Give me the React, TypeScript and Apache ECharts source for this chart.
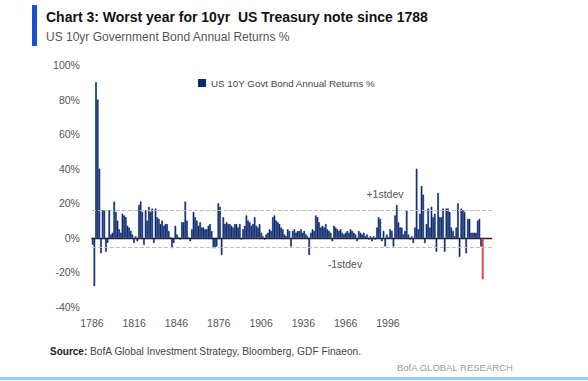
import React, { useEffect, useRef } from "react";
import * as echarts from "echarts";

const startYear = 1786;
// US 10Y govt bond annual returns %, 1786..2022
const returns: number[] = [
  -4, -28, 90, 80, 40, -9, 16, 16, -8, -3,
  16, 2, 3, 21, 15, 10, 5, 3, 14, 13,
  12, 7, 6, 4, 2, -3, 1, -2, 19, 21,
  15, -4, 16, 10, 18, 15, 17, -3, 17, 12,
  11, 8, 10, 7, 8, 8, 4, 0, -6, -3,
  7, 2, 0, -1, 9, 9, 21, 10, 0, -2,
  5, 15, 12, 10, 7, 9, 6, 6, 5, 5,
  7, 8, 4, -6, -6, -5, 20, 18, -10, 12,
  8, 9, 8, 8, 7, 6, 8, 8, 6, 8,
  -1, 5, 7, 13, 10, 9, 7, 8, 12, 7,
  6, 8, 3, 1, -1, 2, 3, 5, 4, 12,
  13, 10, 9, 8, 6, 5, 2, 1, 5, 4,
  -5, 4, 5, 3, 4, 4, 5, 3, 4, 2,
  1, -10, 3, 5, 4, 13, 12, 9, 6, 7,
  6, 8, 5, 4, 3, -2, 7, 6, 5, 4,
  5, 3, 2, 3, 4, 3, 5, 4, 3, 2,
  -2, 4, 3, 2, 3, 1, 2, -1, 1, -2,
  1, -1, 6, 12, 11, -2, 4, -5, 2, 0,
  5, 4, -5, 13, 19, 9, 6, 6, 2, 4,
  16, 2, -1, 1, -3, 6, 40, 5, 14, 30,
  25, -3, 8, 17, 6, 18, 12, 14, -8, 26,
  12, 12, 17, -8, 17, 17, 15, 6, 4, 1,
  6, 20, -11, 17, 16, 15, -9, 11, 11, 3,
  3, 3, 3, 10, 11, -5, -24,
];
const years: number[] = returns.map((_, i) => startYear + i);

const xTickLabels = ["1786", "1816", "1846", "1876", "1906", "1936", "1966", "1996"];
const stdevUpper = 16.1;
const stdevLower = -5.7;
const seriesName = "US 10Y Govt Bond Annual Returns %";
const titleText = "Chart 3: Worst year for 10yr  US Treasury note since 1788";
const subtitleText = "US 10yr Government Bond Annual Returns %";
const sourceText = " BofA Global Investment Strategy, Bloomberg, GDF Finaeon.";

const NAVY = "#0b2870";
const RED = "#e8262a";
const FONT = '"Liberation Sans Narrow", "Arial Narrow", "Liberation Sans", sans-serif';

export default function App() {
  const ref = useRef<HTMLDivElement>(null);
  useEffect(() => {
    if (!ref.current) return;
    const chart = echarts.init(ref.current, undefined, { renderer: "svg" });
    const last = returns.length - 1;
    const data = returns.map((v, i) =>
      i === last
        ? { value: [years[i], v], itemStyle: { color: RED, borderColor: RED } }
        : [years[i], v]
    );
    chart.setOption({
      animation: false,
      backgroundColor: "#ffffff",
      textStyle: { fontFamily: FONT },
      grid: { left: 91.9, right: 96.2, top: 65, bottom: 74, outerBoundsMode: "none" },
      legend: {
        data: [seriesName],
        left: 193,
        top: 73,
        icon: "rect",
        itemWidth: 8,
        itemHeight: 8,
        itemGap: 4,
        itemStyle: { borderWidth: 0 },
        textStyle: { fontSize: 9.8, color: "#444", fontFamily: FONT },
      },
      xAxis: [
        {
          type: "value",
          position: "bottom",
          min: 1785.5,
          max: 2027.5,
          axisLine: { show: true, onZero: true, lineStyle: { color: "#222", width: 1.3 } },
          axisTick: { show: false },
          axisLabel: { show: false },
          splitLine: { show: false },
        },
        {
          type: "value",
          position: "bottom",
          min: 0,
          max: 283.7,
          interval: 30,
          axisLine: { show: false },
          axisTick: { show: false },
          splitLine: { show: false },
          axisLabel: {
            formatter: (v: number) => xTickLabels[Math.round(v / 30)] ?? "",
            fontSize: 10.5,
            color: "#555",
            margin: 10,
            fontFamily: FONT,
          },
        },
      ],
      yAxis: {
        type: "value",
        min: -40,
        max: 100,
        interval: 20,
        axisLine: { show: false },
        axisTick: { show: false },
        splitLine: { show: false },
        axisLabel: { formatter: "{value}%", fontSize: 10.5, color: "#555", margin: 12, fontFamily: FONT },
      },
      series: [
        {
          type: "bar",
          name: seriesName,
          xAxisIndex: 0,
          data,
          barWidth: 1.65,
          itemStyle: { color: NAVY, borderColor: NAVY, borderWidth: 0.6 },
          markLine: {
            silent: true,
            symbol: "none",
            label: { show: false },
            lineStyle: { type: "dashed", color: "#bdbdbd", width: 1 },
            data: [{ yAxis: stdevUpper }, { yAxis: stdevLower }],
          },
        },
      ],
      graphic: [
        { type: "rect", shape: { x: 32, y: 5, width: 5, height: 41 }, style: { fill: "#1a4fd0" } },
        {
          type: "text",
          x: 46,
          y: 17,
          style: { text: titleText, font: `bold 14px ${FONT}`, fill: "#111", verticalAlign: "middle" },
        },
        {
          type: "text",
          x: 46,
          y: 37,
          style: { text: subtitleText, font: `12px ${FONT}`, fill: "#555", verticalAlign: "middle" },
        },
        {
          type: "text",
          x: 385,
          y: 194,
          style: { text: "+1stdev", font: `10.5px ${FONT}`, fill: "#555", align: "center", verticalAlign: "middle" },
        },
        {
          type: "text",
          x: 345,
          y: 264,
          style: { text: "-1stdev", font: `10.5px ${FONT}`, fill: "#555", align: "center", verticalAlign: "middle" },
        },
        {
          type: "text",
          x: 50,
          y: 351,
          style: {
            text: "{b|Source:}{r|" + sourceText + "}",
            verticalAlign: "middle",
            rich: {
              b: { font: `bold 10px ${FONT}`, fill: "#222" },
              r: { font: `10.2px ${FONT}`, fill: "#444" },
            },
          },
        },
        {
          type: "text",
          x: 397,
          y: 367,
          style: { text: "BofA GLOBAL RESEARCH", font: `9.5px ${FONT}`, fill: "#9a9a9a", verticalAlign: "middle" },
        },
        { type: "rect", shape: { x: 0, y: 377, width: 588, height: 3 }, style: { fill: "#8fd0f2" } },
      ],
    });
    return () => chart.dispose();
  }, []);
  return (
    <div
      ref={ref}
      style={{ position: "fixed", left: 0, top: 0, width: 588, height: 381, background: "#fff" }}
    />
  );
}
